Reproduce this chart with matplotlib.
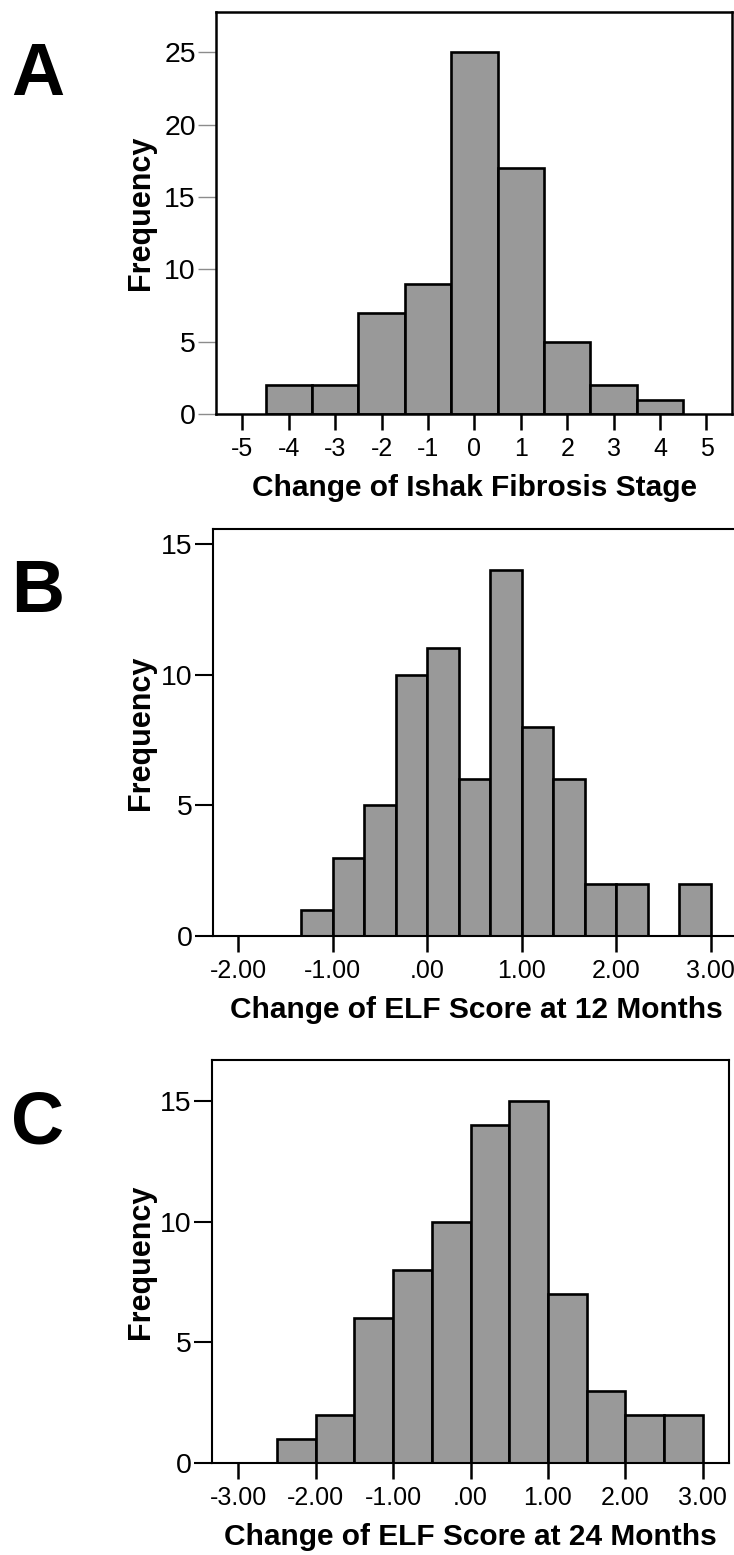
import numpy as np
import matplotlib.pyplot as plt

plt.rcParams['font.family'] = ['Liberation Sans', 'DejaVu Sans']

# -------------------
# Histogram data (bin edges + counts)
# -------------------
ishak_edges = [-4.5, -3.5, -2.5, -1.5, -0.5, 0.5, 1.5, 2.5, 3.5, 4.5]
ishak_counts = [2, 2, 7, 9, 25, 17, 5, 2, 1]
ishak_xticks = [-5, -4, -3, -2, -1, 0, 1, 2, 3, 4, 5]
ishak_xlabels = ['-5', '-4', '-3', '-2', '-1', '0', '1', '2', '3', '4', '5']
ishak_yticks = [0, 5, 10, 15, 20, 25]

elf12_edges = [-1.333, -1.0, -0.667, -0.333, 0.0, 0.333, 0.667, 1.0,
               1.333, 1.667, 2.0, 2.333, 2.667, 3.0]
elf12_counts = [1, 3, 5, 10, 11, 6, 14, 8, 6, 2, 2, 0, 2]
elf12_xticks = [-2, -1, 0, 1, 2, 3]
elf12_xlabels = ['-2.00', '-1.00', '.00', '1.00', '2.00', '3.00']
elf12_yticks = [0, 5, 10, 15]

elf24_edges = [-2.5, -2.0, -1.5, -1.0, -0.5, 0.0, 0.5, 1.0, 1.5, 2.0, 2.5, 3.0]
elf24_counts = [1, 2, 6, 8, 10, 14, 15, 7, 3, 2, 2]
elf24_xticks = [-3, -2, -1, 0, 1, 2, 3]
elf24_xlabels = ['-3.00', '-2.00', '-1.00', '.00', '1.00', '2.00', '3.00']
elf24_yticks = [0, 5, 10, 15]

W, H = 734, 1555
fig = plt.figure(figsize=(W / 100, H / 100), dpi=100)
fig.patch.set_facecolor('white')


def px_axes(left, top, right, bottom):
    # axes placed from pixel box (y measured from the top)
    return fig.add_axes([left / W, 1 - bottom / H, (right - left) / W, (bottom - top) / H])


def draw_hist(box, edges, counts, xlim, ylim, xticks, xlabels, yticks,
              xlabel, letter, frame_lw=1.5, ytick_color='black', ytick_w=1.5):
    left, top, right, bottom = box
    ax = px_axes(*box)
    edges = np.asarray(edges)
    ax.bar(edges[:-1], counts, width=np.diff(edges), align='edge',
           color='#999999', edgecolor='black', linewidth=1.9, zorder=2)
    ax.set_xlim(*xlim)
    ax.set_ylim(*ylim)
    ax.set_xticks(xticks)
    ax.set_xticklabels(xlabels)
    ax.set_yticks(yticks)
    for sp in ax.spines.values():
        sp.set_linewidth(frame_lw)
        sp.set_color('black')
        sp.set_zorder(3)
    ax.tick_params(axis='x', direction='out', length=11.5, width=1.8,
                   color='black', labelsize=18, pad=5)
    ax.tick_params(axis='y', direction='out', length=13, width=ytick_w,
                   color=ytick_color, labelsize=20.5, pad=1.5)
    ax.set_xlabel(xlabel, fontsize=21.5, fontweight='bold')
    ax.set_ylabel('Frequency', fontsize=22, fontweight='bold')
    ax.xaxis.set_label_coords(0.5, -60 / (bottom - top))
    ax.yaxis.set_label_coords((156 - left) / (right - left), 0.5)
    fig.text(11 / W, 1 - (top + 83) / H, letter, fontsize=53,
             fontweight='bold', ha='left', va='baseline')
    return ax


draw_hist((216, 12, 732, 414), ishak_edges, ishak_counts,
          (-5.57, 5.55), (0, 27.8), ishak_xticks, ishak_xlabels, ishak_yticks,
          'Change of Ishak Fibrosis Stage', 'A',
          frame_lw=1.8, ytick_color='#8c8c8c', ytick_w=1.0)

draw_hist((213, 529, 739, 936), elf12_edges, elf12_counts,
          (-2.265, 3.3), (0, 15.57), elf12_xticks, elf12_xlabels, elf12_yticks,
          'Change of ELF Score at 12 Months', 'B')

draw_hist((212, 1060, 729, 1463), elf24_edges, elf24_counts,
          (-3.34, 3.34), (0, 16.7), elf24_xticks, elf24_xlabels, elf24_yticks,
          'Change of ELF Score at 24 Months', 'C')

fig.savefig('out.png', dpi=100)
